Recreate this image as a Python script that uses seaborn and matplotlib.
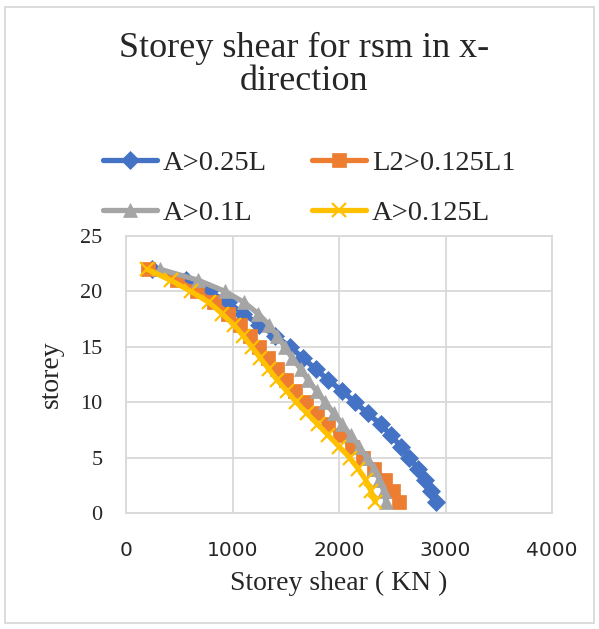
import matplotlib
matplotlib.use("Agg")
import matplotlib.pyplot as plt
import seaborn as sns
import pandas as pd
from matplotlib.patches import Rectangle

storeys = list(range(1, 23))
a_025L = [2910, 2860, 2810, 2740, 2660, 2580, 2490, 2390, 2270, 2150, 2030,
          1900, 1780, 1660, 1540, 1400, 1250, 1100, 960, 780, 560, 240]
l2_0125L1 = [2560, 2510, 2430, 2330, 2230, 2120, 2010, 1900, 1790, 1690, 1590,
             1500, 1420, 1330, 1250, 1160, 1070, 960, 830, 670, 480, 210]
a_01L = [2440, 2420, 2380, 2330, 2260, 2190, 2110, 2030, 1950, 1870, 1790,
         1710, 1640, 1560, 1490, 1420, 1340, 1240, 1110, 930, 680, 320]
a_0125L = [2340, 2300, 2250, 2180, 2100, 2000, 1900, 1800, 1700, 1600, 1510,
           1420, 1340, 1260, 1180, 1100, 1010, 900, 780, 610, 420, 200]

series_names = ["A>0.25L", "L2>0.125L1", "A>0.1L", "A>0.125L"]
series_values = [a_025L, l2_0125L1, a_01L, a_0125L]
colors = ["#4472C4", "#ED7D31", "#A5A5A5", "#FFC000"]
markers = ["D", "s", "^", "x"]
msizes = [9.5, 10, 10.5, 10]

x_ticks = [0, 1000, 2000, 3000, 4000]
y_ticks = [0, 5, 10, 15, 20, 25]

sns.set_style("white")
plt.rcParams["font.family"] = ["Liberation Serif", "DejaVu Serif"]

W, H = 599, 629
fig = plt.figure(figsize=(W / 100, H / 100), dpi=100)
ax = fig.add_axes([126 / W, 1 - 513 / H, (552 - 126) / W, (513 - 236) / H])

for name, vals, c, m, ms in zip(series_names, series_values, colors, markers, msizes):
    df = pd.DataFrame({"shear": vals, "storey": storeys})
    sns.lineplot(data=df, x="shear", y="storey", orient="y", sort=True, ax=ax,
                 color=c, linewidth=3.8, marker=m, markersize=ms,
                 markeredgecolor=c, markerfacecolor=c,
                 markeredgewidth=1.6 if m == "x" else 0.5, label=name)

ax.set_xlim(0, 4000)
ax.set_ylim(0, 25)
ax.set_xticks(x_ticks)
ax.set_yticks(y_ticks)
ax.grid(True, color="#D9D9D9", linewidth=1.3)
ax.set_axisbelow(True)
for s in ax.spines.values():
    s.set_color("#D9D9D9")
    s.set_linewidth(1.3)
ax.tick_params(length=0)
ax.tick_params(axis="x", pad=20)
ax.tick_params(axis="y", pad=17)
for lab in ax.get_xticklabels():
    lab.set_fontfamily("DejaVu Sans")
    lab.set_fontsize(14.5)
for lab in ax.get_yticklabels():
    lab.set_fontsize(16)
ax.set_xlabel("Storey shear ( KN )", fontsize=20, labelpad=8)
ax.set_ylabel("storey", fontsize=20, labelpad=12)

handles, labels = ax.get_legend_handles_labels()
ax.get_legend().remove()
order = [0, 2, 1, 3]
fig.legend([handles[i] for i in order], [labels[i] for i in order],
           ncol=2, loc="center",
           bbox_to_anchor=(309 / W, 1 - 188 / H), frameon=False,
           fontsize=20.5, handlelength=1.9, handletextpad=0.2,
           columnspacing=1.6, labelspacing=0.85)

fig.text(304 / W, 1 - 32 / H, "Storey shear for rsm in x-\ndirection",
         ha="center", va="top", fontsize=26, linespacing=1.0,
         multialignment="center")

fig.patches.append(Rectangle((5 / W, 6 / H), (W - 10) / W, (H - 13) / H,
                             transform=fig.transFigure, fill=False,
                             edgecolor="#D9D9D9", linewidth=1.3))

fig.savefig("out.png", dpi=100)
